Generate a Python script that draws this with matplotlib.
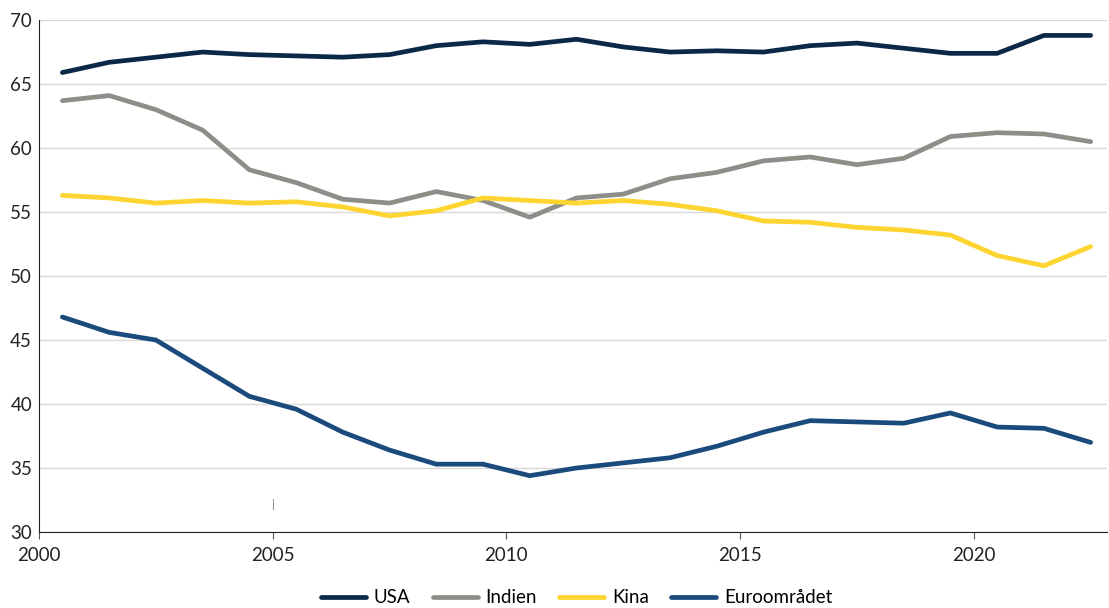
import numpy as np
import matplotlib.pyplot as plt

years = np.arange(2000.5, 2023, 1.0)

usa = [65.9, 66.7, 67.1, 67.5, 67.3, 67.2, 67.1, 67.3, 68.0, 68.3, 68.1, 68.5,
       67.9, 67.5, 67.6, 67.5, 68.0, 68.2, 67.8, 67.4, 67.4, 68.8, 68.8]
indien = [63.7, 64.1, 63.0, 61.4, 58.3, 57.3, 56.0, 55.7, 56.6, 55.9, 54.6, 56.1,
          56.4, 57.6, 58.1, 59.0, 59.3, 58.7, 59.2, 60.9, 61.2, 61.1, 60.5]
kina = [56.3, 56.1, 55.7, 55.9, 55.7, 55.8, 55.4, 54.7, 55.1, 56.1, 55.9, 55.7,
        55.9, 55.6, 55.1, 54.3, 54.2, 53.8, 53.6, 53.2, 51.6, 50.8, 52.3]
euro = [46.8, 45.6, 45.0, 42.8, 40.6, 39.6, 37.8, 36.4, 35.3, 35.3, 34.4, 35.0,
        35.4, 35.8, 36.7, 37.8, 38.7, 38.6, 38.5, 39.3, 38.2, 38.1, 37.0]

series = [("USA", usa, "#0c2848"), ("Indien", indien, "#8e8e89"),
          ("Kina", kina, "#fdd430"), ("Euroområdet", euro, "#1b4a7c")]

plt.rcParams['font.family'] = ['Lato', 'DejaVu Sans']

fig = plt.figure(figsize=(11.09, 6.08), dpi=100)
ax = fig.add_axes([0.0352, 0.125, 0.963, 0.842])

for name, vals, col in series:
    ax.plot(years, vals, color=col, lw=3.4, solid_capstyle="round",
            solid_joinstyle="round", label=name)

ax.set_xlim(2000, 2022.85)
ax.set_ylim(30, 70)
ax.set_yticks(range(30, 71, 5))
ax.set_xticks(range(2000, 2021, 5))
ax.grid(axis="y", color="#d9d9d9", lw=1)
ax.set_axisbelow(True)
for s in ["top", "right"]:
    ax.spines[s].set_visible(False)
ax.spines["left"].set_color("#222222")
ax.spines["bottom"].set_color("#222222")
ax.tick_params(axis="y", length=0, labelsize=13.5, pad=5, colors="#222222")
ax.tick_params(axis="x", length=5, color="#555555", labelsize=13.5, pad=6, labelcolor="#222222")
# small stray mark seen in the original above 2005
ax.axvline(2005, ymin=0.045, ymax=0.065, color="#999999", lw=0.8)

fig.legend(loc="lower center", ncol=4, frameon=False, fontsize=13.5,
           bbox_to_anchor=(0.52, -0.025), handlelength=2.4, columnspacing=1.2,
           handletextpad=0.4)

fig.savefig("out.png", dpi=100)
